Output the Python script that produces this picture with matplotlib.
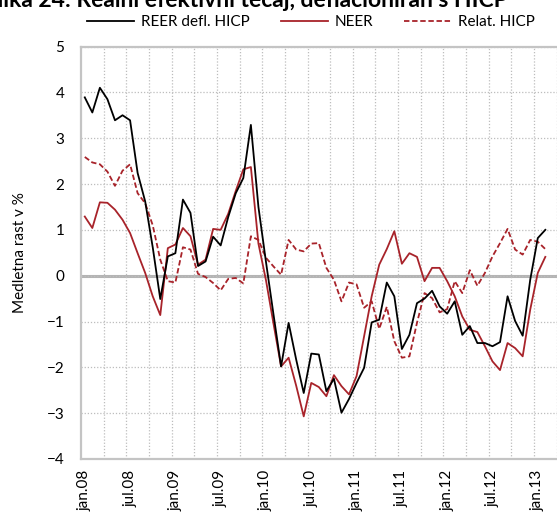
import numpy as np
import matplotlib
matplotlib.use("Agg")
import matplotlib.pyplot as plt
from matplotlib.lines import Line2D

plt.rcParams['font.family'] = ['Lato', 'DejaVu Sans']

tick_labels = ['jan.08', 'jul.08', 'jan.09', 'jul.09', 'jan.10', 'jul.10',
               'jan.11', 'jul.11', 'jan.12', 'jul.12', 'jan.13']

reer = [3.89, 3.56, 4.10, 3.85, 3.39, 3.50, 3.39, 2.24, 1.62, 0.62, -0.51, 0.42,
        0.49, 1.66, 1.37, 0.21, 0.31, 0.85, 0.66, 1.28, 1.80, 2.13, 3.29, 1.50,
        0.30, -0.85, -1.98, -1.03, -1.83, -2.56, -1.70, -1.72, -2.52, -2.25, -2.99, -2.69,
        -2.34, -2.01, -1.02, -0.96, -0.15, -0.45, -1.60, -1.29, -0.60, -0.50, -0.33, -0.67,
        -0.83, -0.56, -1.29, -1.10, -1.47, -1.47, -1.54, -1.45, -0.45, -0.99, -1.31, -0.09,
        0.82, 1.00]

neer = [1.29, 1.04, 1.60, 1.59, 1.44, 1.22, 0.93, 0.49, 0.06, -0.45, -0.86, 0.60,
        0.68, 1.04, 0.86, 0.24, 0.35, 1.02, 1.00, 1.35, 1.85, 2.32, 2.37, 0.70,
        -0.10, -1.05, -1.98, -1.79, -2.40, -3.07, -2.34, -2.43, -2.63, -2.17, -2.41, -2.59,
        -2.19, -1.32, -0.45, 0.24, 0.58, 0.97, 0.26, 0.49, 0.41, -0.12, 0.17, 0.17,
        -0.12, -0.45, -0.89, -1.18, -1.23, -1.54, -1.87, -2.06, -1.47, -1.58, -1.76, -0.74,
        0.06, 0.41]

relat_hicp = [2.59, 2.47, 2.43, 2.27, 1.96, 2.29, 2.43, 1.80, 1.58, 1.10, 0.35, -0.12,
              -0.15, 0.62, 0.57, 0.04, -0.03, -0.16, -0.32, -0.07, -0.05, -0.17, 0.86, 0.78,
              0.39, 0.20, 0.02, 0.78, 0.57, 0.53, 0.70, 0.71, 0.17, -0.09, -0.56, -0.15,
              -0.19, -0.70, -0.56, -1.16, -0.68, -1.43, -1.79, -1.76, -1.03, -0.38, -0.49, -0.80,
              -0.73, -0.12, -0.38, 0.12, -0.22, 0.06, 0.42, 0.71, 1.02, 0.57, 0.46, 0.78,
              0.74, 0.58]

RED = '#a8232a'
GRID = '#bdbdbd'

W, H = 557, 518
fig = plt.figure(figsize=(W / 100, H / 100), dpi=100)
ax = fig.add_axes([81 / W, 59 / H, 476 / W, 412.5 / H])

x = np.arange(len(reer))
ax.set_xlim(-0.5, -0.5 + 476 / 7.55)
ax.set_ylim(-4, 5)

# grid
ax.set_yticks(range(-4, 6))
ax.set_xticks(np.arange(0, len(reer), 6))
ax.set_xticklabels(tick_labels, rotation=90, ha='center', va='top')
ax.set_xticks(np.arange(2.5, 63, 3), minor=True)
ax.grid(axis='y', which='major', linestyle=(0, (1, 1.5)), color=GRID, lw=0.9)
ax.grid(axis='x', which='minor', linestyle=(0, (1, 1.5)), color=GRID, lw=0.9)
ax.axhline(0, color='#b4b4b4', lw=2.2, zorder=1)

ax.plot(x, relat_hicp, color=RED, lw=1.3, linestyle=(0, (3, 1.5)), zorder=3)
ax.plot(x, neer, color=RED, lw=1.3, zorder=3)
ax.plot(x, reer, color='black', lw=1.3, zorder=4)

ax.tick_params(axis='both', which='both', length=0, labelsize=11)
ax.tick_params(axis='y', pad=12)
ax.tick_params(axis='x', pad=8)
for side in ['left', 'top', 'bottom']:
    ax.spines[side].set_color('#c4c4c4')
    ax.spines[side].set_linewidth(1.6)
ax.spines['right'].set_visible(False)

ax.set_ylabel('Medletna rast v %', fontsize=11, labelpad=14)

handles = [Line2D([], [], color='black', lw=1.3),
           Line2D([], [], color=RED, lw=1.3),
           Line2D([], [], color=RED, lw=1.3, linestyle=(0, (3, 1.5)))]
fig.legend(handles, ['REER defl. HICP', 'NEER', 'Relat. HICP'],
           loc='center', bbox_to_anchor=(311 / W, 1 - 22 / H), ncol=3,
           frameon=False, fontsize=11, handlelength=3.1, handletextpad=0.45,
           columnspacing=2.0, borderpad=0, borderaxespad=0)

# chart title, partially cropped at the top edge as in the reference
fig.text(508 / W, 1 - 7 / H, 'Slika 24: Realni efektivni tečaj, deflacioniran s HICP',
         ha='right', va='baseline', fontsize=16.5, fontweight='bold')

fig.savefig('out.png', dpi=100)
